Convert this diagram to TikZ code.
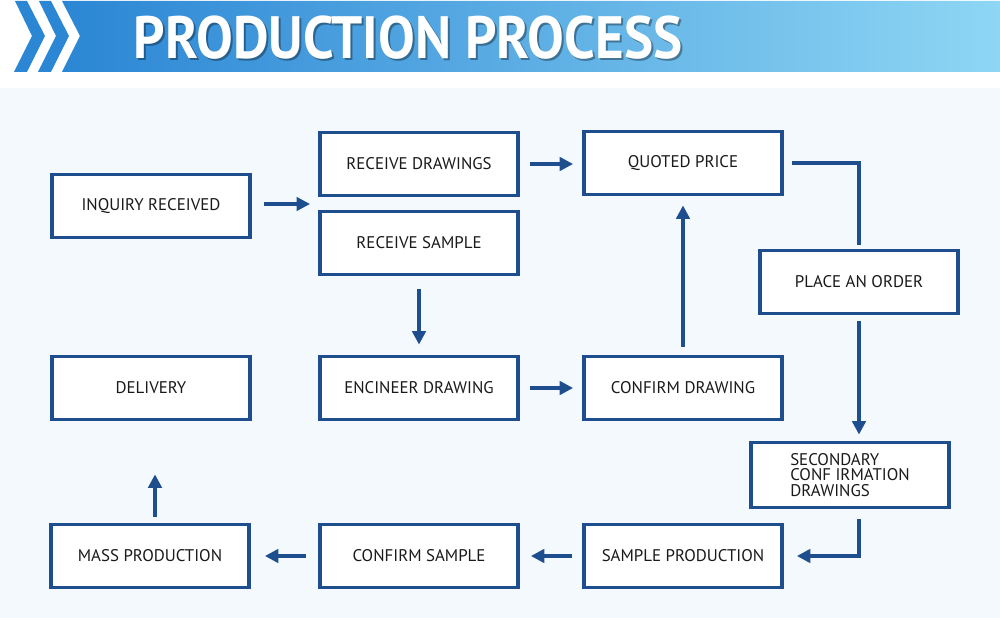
\documentclass[tikz,border=0pt]{standalone}
\usepackage{fontspec}
\setmainfont{PT Sans}
\usetikzlibrary{arrows.meta}
\definecolor{boxblue}{HTML}{1F4E8E}
\definecolor{bandleft}{HTML}{2B86D4}
\definecolor{bandright}{HTML}{8ED6F4}
\definecolor{paleblue}{HTML}{F3F9FD}
\definecolor{textgray}{HTML}{1A1A1A}

\begin{document}
\begin{tikzpicture}[x=0.02cm,y=-0.02cm,
    stepbox/.style={draw=boxblue,line width=2.2pt,fill=white,minimum width=3.96cm,minimum height=1.26cm,inner sep=0pt,text=textgray,align=center,font=\fontsize{9.6pt}{11pt}\selectfont},
    flow/.style={draw=boxblue,line width=1.8pt,-{Triangle[length=2.7mm,width=2.7mm]}},
    link/.style={draw=boxblue,line width=1.8pt}]
            \useasboundingbox (0,0) rectangle (1000,618);
            % background
            \fill [white] (0,0) rectangle (1000,618);
            \fill [paleblue] (0,88) rectangle (1000,618);
            % header band
            \shade [left color=bandleft,right color=bandright] (62,1) -- (1000,1) -- (1000,72) -- (62,72) -- (80,36) -- cycle;
            \fill [bandleft] (15,1) -- (27,1) -- (45,36) -- (27,72) -- (14,72) -- (32,36) -- cycle;
            \fill [bandleft] (39,1) -- (51,1) -- (69,36) -- (51,72) -- (38,72) -- (56,36) -- cycle;
            % title
            \node [text=black,opacity=0.35,font=\fontsize{34pt}{38pt}\selectfont\bfseries] (titleshadow) at (410,40) {\scalebox{0.92}[1]{PRODUCTION PROCESS}};
            \node [text=white,font=\fontsize{34pt}{38pt}\selectfont\bfseries] (title) at (408,38) {\scalebox{0.92}[1]{PRODUCTION PROCESS}};
            % top row
            \node [stepbox] (inquiry) at (151,206) {INQUIRY RECEIVED};
            \node [stepbox] (rdraw) at (419,164) {RECEIVE DRAWINGS};
            \node [stepbox] (rsample) at (419,243) {RECEIVE SAMPLE};
            \node [stepbox] (quoted) at (683,163) {QUOTED PRICE};
            \node [stepbox] (order) at (859,282) {PLACE AN ORDER};
            \coordinate (recvgap) at (320,204);
            % middle row
            \node [stepbox] (delivery) at (151,388) {DELIVERY};
            \node [stepbox] (engineer) at (419,388) {ENCINEER DRAWING};
            \node [stepbox] (cdraw) at (683,388) {CONFIRM DRAWING};
            \node [stepbox,align=left,font=\fontsize{9.6pt}{8.6pt}\selectfont,minimum height=1.3cm] (secondary) at (850,475) {SECONDARY\\CONF IRMATION\\DRAWINGS};
            % bottom row
            \node [stepbox] (mass) at (150,556) {MASS PRODUCTION};
            \node [stepbox] (csample) at (419,556) {CONFIRM SAMPLE};
            \node [stepbox] (sprod) at (683,556) {SAMPLE PRODUCTION};
            % arrows
            \draw [flow,shorten <=2.4mm,shorten >=2mm] (inquiry.east |- recvgap) -- (recvgap);
            \draw [flow,shorten <=2mm,shorten >=1.8mm] (rdraw.east) -- (rdraw.east -| quoted.west);
            \draw [flow,shorten <=2.6mm,shorten >=2mm] (rsample.south) -- (engineer.north);
            \draw [flow,shorten <=2mm,shorten >=1.8mm] (engineer.east) -- (cdraw.west);
            \draw [flow,shorten <=1.6mm,shorten >=1.8mm] (cdraw.north) -- (quoted.south);
            \draw [link,shorten <=1.6mm,shorten >=0.8mm] (quoted.east) -| (order.north);
            \draw [flow,shorten <=1.2mm,shorten >=1.2mm] (order.south) -- (order.south |- secondary.north);
            \draw [flow,shorten <=2mm,shorten >=2.6mm] (secondary.south -| order.south) |- (sprod.east);
            \draw [flow,shorten <=2mm,shorten >=2.2mm] (sprod.west) -- (csample.east);
            \draw [flow,shorten <=2.4mm,shorten >=2.8mm] (csample.west) -- (mass.east);
            \draw [flow,shorten <=1.2mm,shorten >=10.6mm] ([xshift=0.1cm]mass.north) -- ([xshift=0.1cm]mass.north |- delivery.south);
         \end{tikzpicture}
\end{document}
